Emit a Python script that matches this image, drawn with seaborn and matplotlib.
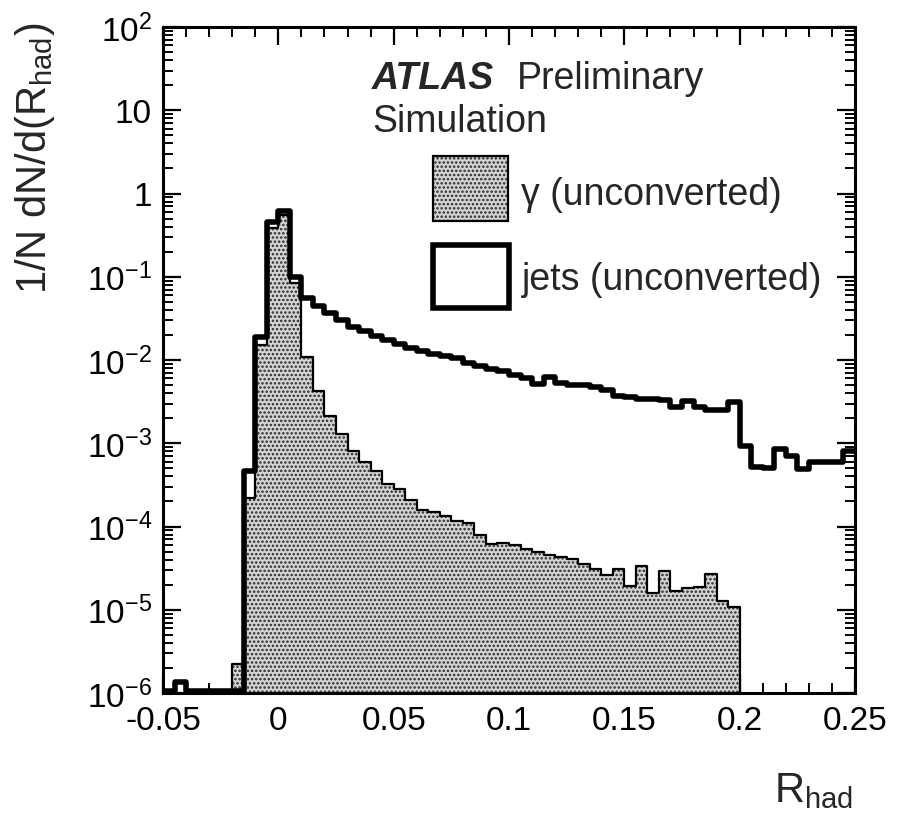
import numpy as np
import pandas as pd
import matplotlib
matplotlib.use("Agg")
import matplotlib.pyplot as plt
import seaborn as sns
from matplotlib.patches import Rectangle
from matplotlib.ticker import FixedLocator, FuncFormatter, LogLocator, NullFormatter

sns.set_theme(style="ticks")
plt.rcParams["font.family"] = ["Liberation Sans", "DejaVu Sans"]
plt.rcParams["mathtext.fontset"] = "custom"
plt.rcParams["mathtext.rm"] = "Liberation Sans"
plt.rcParams["mathtext.it"] = "Liberation Sans:italic"
plt.rcParams["mathtext.bf"] = "Liberation Sans:bold"
plt.rcParams["axes.unicode_minus"] = False
plt.rcParams["hatch.linewidth"] = 1.2

# R_had binning: 60 bins of width 0.005 from -0.05 to 0.25
bin_edges = [round(v, 4) for v in np.linspace(-0.05, 0.25, 61)]
bin_centers = [round(0.5 * (a + b), 5) for a, b in zip(bin_edges[:-1], bin_edges[1:])]

# normalised distributions per bin
photon = [
    0, 0, 0, 0, 0, 0, 2.2e-6, 2.2e-4, 0.015, 0.38,
    0.55, 0.085, 0.011, 4.3e-3, 2.1e-3, 1.3e-3, 8.0e-4, 6.0e-4, 4.7e-4, 3.2e-4,
    2.8e-4, 2.1e-4, 1.6e-4, 1.5e-4, 1.35e-4, 1.15e-4, 1.1e-4, 7.8e-5, 6.2e-5, 6.4e-5,
    6.0e-5, 5.4e-5, 4.9e-5, 4.5e-5, 4.3e-5, 4.1e-5, 3.5e-5, 3.1e-5, 2.6e-5, 3.1e-5,
    1.95e-5, 3.4e-5, 1.6e-5, 2.95e-5, 1.7e-5, 1.8e-5, 1.9e-5, 2.7e-5, 1.28e-5, 1.07e-5,
    0, 0, 0, 0, 0, 0, 0, 0, 0, 0,
]
jets = [
    1.05e-6, 1.35e-6, 1.05e-6, 1.05e-6, 1.05e-6, 1.05e-6, 1.05e-6, 4.7e-4, 0.019, 0.46,
    0.62, 0.10, 0.055, 0.045, 0.037, 0.030, 0.025, 0.022, 0.0195, 0.0173,
    0.0155, 0.0138, 0.0128, 0.0117, 0.0112, 0.0105, 0.0092, 0.0085, 0.0078, 0.0073,
    0.0066, 0.0060, 0.0052, 0.0062, 0.0053, 0.0050, 0.0050, 0.0048, 0.0044, 0.0037,
    0.0036, 0.0034, 0.0034, 0.0033, 0.0027, 0.0032, 0.0027, 0.0025, 0.0025, 0.0031,
    9.3e-4, 5.2e-4, 5.0e-4, 8.5e-4, 7.0e-4, 4.9e-4, 6.0e-4, 6.0e-4, 6.0e-4, 8.0e-4,
]

x_ticks = [-0.05, 0.0, 0.05, 0.10, 0.15, 0.20, 0.25]
x_tick_labels = ["-0.05", "0", "0.05", "0.1", "0.15", "0.2", "0.25"]

df = pd.DataFrame({"rhad": bin_centers, "photon": photon, "jets": jets})

W, H = 910, 820
fig = plt.figure(figsize=(W / 100, H / 100), dpi=100)
ax = fig.add_axes([163 / W, 1 - 694 / H, (855 - 163) / W, (694 - 28) / H])

fill_col = "#d4d4d4"
dot_col = "#2a2a2a"

# photon: dotted grey fill plus thin outline
sns.histplot(data=df, x="rhad", weights="photon", bins=bin_edges, element="step",
             fill=True, color=fill_col, alpha=1, linewidth=0, ax=ax)
poly = ax.collections[-1]
poly.set_facecolor(fill_col)
poly.set_edgecolor(dot_col)
poly.set_linewidth(0)
poly.set_hatch("....")
sns.histplot(data=df, x="rhad", weights="photon", bins=bin_edges, element="step",
             fill=False, color="black", linewidth=1.6, ax=ax)

# jets: thick black outline
sns.histplot(data=df, x="rhad", weights="jets", bins=bin_edges, element="step",
             fill=False, color="black", linewidth=4.0, ax=ax)

ax.set_yscale("log")
ax.set_xlim(-0.05, 0.25)
ax.set_ylim(1e-6, 1e2)
ax.set_xlabel("")
ax.set_ylabel("")

ax.xaxis.set_major_locator(FixedLocator(x_ticks))
ax.set_xticklabels(x_tick_labels)
ax.xaxis.set_minor_locator(FixedLocator(np.round(np.arange(-0.05, 0.2501, 0.01), 3)))
ax.yaxis.set_major_locator(LogLocator(base=10, numticks=20))
ax.yaxis.set_minor_locator(LogLocator(base=10, subs=np.arange(2, 10), numticks=100))
ax.yaxis.set_minor_formatter(NullFormatter())


def log_label(v, pos):
    e = int(round(np.log10(v)))
    if e == 0:
        return "1"
    if e == 1:
        return "10"
    return r"$\mathregular{10^{%d}}$" % e


ax.yaxis.set_major_formatter(FuncFormatter(log_label))

ax.tick_params(which="both", direction="in", top=True, right=True, labelsize=24, colors="black")
ax.tick_params(which="major", length=13, width=1.6)
ax.tick_params(which="minor", length=7, width=1.4)
ax.tick_params(axis="x", pad=9)
ax.tick_params(axis="y", pad=8)
for s in ax.spines.values():
    s.set_linewidth(2.2)
    s.set_color("black")


def fx(px):
    return px / W


def fy(py):
    return 1 - py / H


# axis titles
fig.text(fx(13), fy(22), r"1/N dN/d(R$_{\mathregular{had}}$)", rotation=90,
         ha="left", va="top", fontsize=30)
fig.text(fx(853), fy(802), r"R$_{\mathregular{had}}$", ha="right", va="baseline", fontsize=30)

# experiment labels
fig.text(fx(372), fy(89), "ATLAS", fontsize=27, fontweight="bold", fontstyle="italic",
         va="baseline")
fig.text(fx(517), fy(89), "Preliminary", fontsize=27, va="baseline")
fig.text(fx(372), fy(132), "Simulation", fontsize=27, va="baseline")

# legend
fig.add_artist(Rectangle((fx(433), fy(222)), fx(508) - fx(433), fy(157) - fy(222),
                         transform=fig.transFigure, facecolor=fill_col, edgecolor=dot_col,
                         hatch="....", linewidth=0))
fig.add_artist(Rectangle((fx(433), fy(222)), fx(508) - fx(433), fy(157) - fy(222),
                         transform=fig.transFigure, facecolor="none", edgecolor="black",
                         linewidth=1.6))
fig.add_artist(Rectangle((fx(433), fy(309)), fx(509) - fx(433), fy(246) - fy(309),
                         transform=fig.transFigure, facecolor="white", edgecolor="black",
                         linewidth=4.0))
fig.text(fx(521), fy(205), "γ (unconverted)", fontsize=27, va="baseline")
fig.text(fx(522), fy(290), "jets (unconverted)", fontsize=27, va="baseline")

fig.savefig("out.png", dpi=100, facecolor="white")
